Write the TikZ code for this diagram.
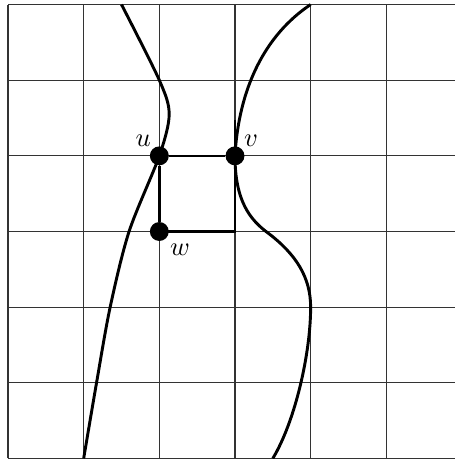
\documentclass[tikz,border=0pt]{standalone}
\usepackage{tikz}
\definecolor{ink}{HTML}{000000}
\definecolor{gridgray}{HTML}{333333}

\begin{document}
\begin{tikzpicture}[
  gridline/.style={draw=gridgray, line width=0.45pt},
  curve/.style={draw=ink, line width=1.1pt},
  edge/.style={draw=ink, line width=0.9pt},
  dot/.style={circle, fill=ink, inner sep=0pt, minimum size=0.25cm}]
  \useasboundingbox (-0.106,-0.007) rectangle (5.907,6.06);
  \draw[gridline] (0,0) grid (6.5,6);
  % vertices of the square
  \node[dot] (u) at (2,4) {};
  \node[dot] (v) at (3,4) {};
  \node[dot] (w) at (2,3) {};
  \coordinate (x) at (3,3);
  \coordinate (stub) at (3,4.47);
  \node[anchor=south east, inner sep=1pt] (ulab) at (1.93,4.08) {$u$};
  \node[anchor=south west, inner sep=1pt] (vlab) at (3.08,4.08) {$v$};
  \node[anchor=north west, inner sep=1pt] (wlab) at (2.1,2.88) {$w$};
  \draw[edge] (u)--(v);
  \draw[edge] (u)--(w);
  \draw[edge] (w.center)--(x)--(v.center);
  \draw[edge] (v.center)--(stub);
  % the two curves
  \draw[curve] plot[smooth] coordinates {(1.5,6) (2,5) (2.13,4.55) (2,4) (1.6,3) (1.35,2) (1.17,1) (1,0)};
  \draw[curve] (4,6) .. controls (3.4,5.6) and (3.05,4.9) .. (v.center)
    .. controls (3,3.4) and (3.2,3.15) .. (3.45,2.97)
    .. controls (3.8,2.7) and (4,2.4) .. (4,2)
    .. controls (4,1.4) and (3.8,0.5) .. (3.5,0);
\end{tikzpicture}
\end{document}
